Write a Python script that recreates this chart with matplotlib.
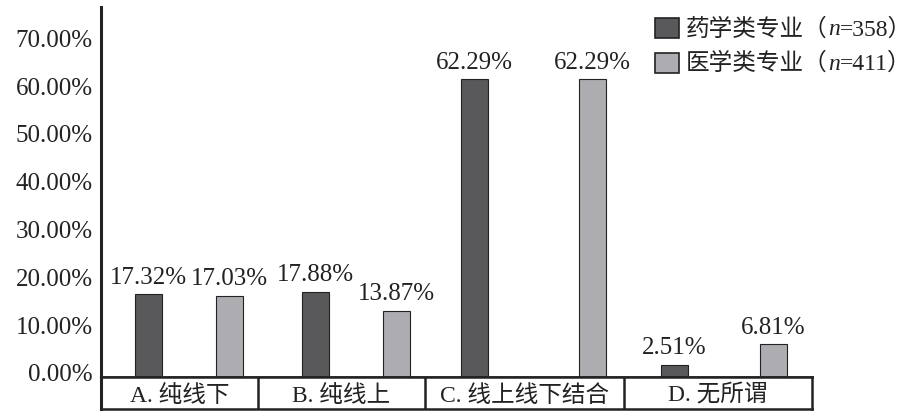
import matplotlib
matplotlib.use("Agg")
import matplotlib.pyplot as plt
import matplotlib.transforms as mtrans
from matplotlib.offsetbox import (AnchoredOffsetbox, DrawingArea, HPacker,
                                  TextArea, VPacker)
from matplotlib.patches import Rectangle

plt.rcParams['font.family'] = ['Liberation Serif', 'Noto Sans CJK SC']

categories = ['A. 纯线下', 'B. 纯线上', 'C. 线上线下结合', 'D. 无所谓']
pharmacy = [17.32, 17.88, 62.29, 2.51]
medicine = [17.03, 13.87, 62.29, 6.81]
series_names = ['药学类专业', '医学类专业']
series_n = [358, 411]
yticks = [0, 10, 20, 30, 40, 50, 60, 70]

# layout (x in pixel-like units of the axis)
cell_edges = [101, 258, 425, 624, 812]
group_pos = [188.5, 355.5, 533, 723.5]
half_gap = [40.5, 40.5, 59, 49.5]
bar_w = 27
dark = '#59595b'
light = '#adadb1'
ink = '#222222'

fig = plt.figure(figsize=(9.21, 4.14), dpi=100)
W, H = 921, 414
ax = fig.add_axes([101 / W, 36 / H, (812 - 101) / W, (406 - 36) / H])

x1 = [g - h for g, h in zip(group_pos, half_gap)]
x2 = [g + h for g, h in zip(group_pos, half_gap)]
ax.bar(x1, pharmacy, width=bar_w, color=dark, edgecolor=ink, linewidth=0.8)
ax.bar(x2, medicine, width=bar_w, color=light, edgecolor=ink, linewidth=0.8)

for xs, vals in ((x1, pharmacy), (x2, medicine)):
    for x, v in zip(xs, vals):
        ax.text(x, v + 1.4, f'{v:.2f}%', ha='center', va='bottom', fontsize=18, color=ink)

ax.set_xlim(cell_edges[0], cell_edges[-1])
ax.set_ylim(0, 77.4)
ax.set_yticks(yticks)
ax.set_yticklabels([f'{t:.2f}%' for t in yticks], fontsize=18, color=ink)
ax.tick_params(axis='y', length=0, pad=6)
shift = mtrans.ScaledTranslation(0, 5 / 100, fig.dpi_scale_trans)
for lab in ax.get_yticklabels():
    lab.set_transform(lab.get_transform() + shift)
ax.set_xticks([])
for s in ['top', 'right']:
    ax.spines[s].set_visible(False)
ax.spines['left'].set_linewidth(2.2)
ax.spines['bottom'].set_linewidth(1.8)
ax.spines['left'].set_color(ink)
ax.spines['bottom'].set_color(ink)

# legend built by hand (italic n); DrawingArea sizes are in points
pw, ph = 24 * 0.72, 20 * 0.72
rows = []
for name, n, col in zip(series_names, series_n, (dark, light)):
    da = DrawingArea(pw, ph, 0, 0)
    da.add_artist(Rectangle((0, 0), pw, ph, facecolor=col, edgecolor=ink, linewidth=1.2))
    props = dict(fontsize=17, color=ink)
    parts = [TextArea(name + '（', textprops=props),
             TextArea('n', textprops=dict(props, style='italic')),
             TextArea(f'={n}）', textprops=props)]
    rows.append(HPacker(children=[da, HPacker(children=parts, sep=0, align='baseline')],
                        sep=5, align='center'))
box = VPacker(children=rows, sep=8.5, align='left')
anch = AnchoredOffsetbox(loc='upper left', child=box, frameon=False, pad=0, borderpad=0,
                         bbox_to_anchor=(655 / W, 1 - 18 / H), bbox_transform=fig.transFigure)
fig.add_artist(anch)

# category strip
sx = fig.add_axes([101 / W, 4 / H, (812 - 101) / W, 32 / H])
sx.set_xlim(cell_edges[0], cell_edges[-1])
sx.set_ylim(0, 1)
sx.set_xticks([])
sx.set_yticks([])
for s in sx.spines.values():
    s.set_linewidth(1.8)
    s.set_color(ink)
sx.spines['left'].set_linewidth(2.2)
for e in cell_edges[1:-1]:
    sx.axvline(e, color=ink, linewidth=1.8)
for i, c in enumerate(categories):
    sx.text((cell_edges[i] + cell_edges[i + 1]) / 2, 0.45, c, ha='center', va='center',
            fontsize=17, color=ink)

fig.savefig('out.png', dpi=100)
